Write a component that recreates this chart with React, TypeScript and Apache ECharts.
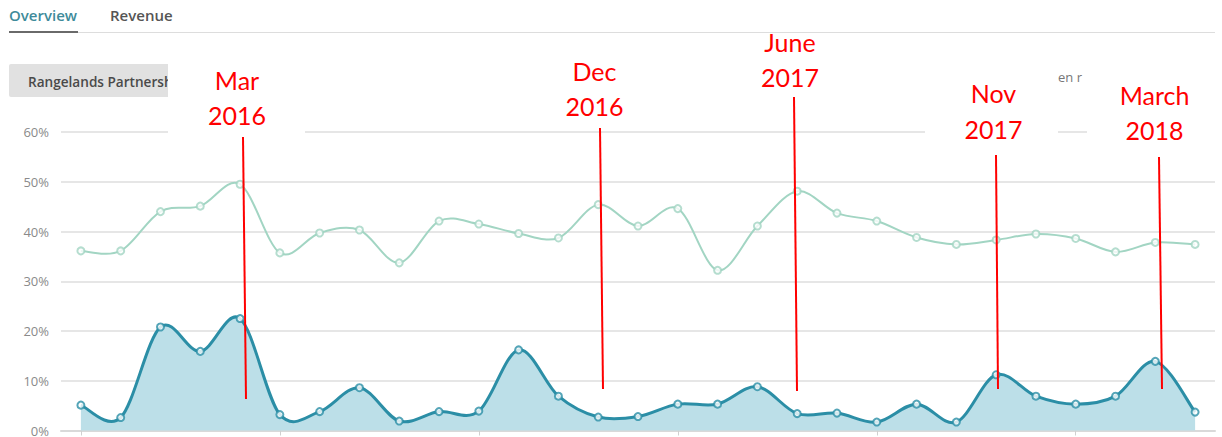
import React, { useEffect, useRef } from "react";
import * as echarts from "echarts";

const months = [
  "Nov 2015", "Dec 2015", "Jan 2016", "Feb 2016", "Mar 2016", "Apr 2016", "May 2016",
  "Jun 2016", "Jul 2016", "Aug 2016", "Sep 2016", "Oct 2016", "Nov 2016", "Dec 2016",
  "Jan 2017", "Feb 2017", "Mar 2017", "Apr 2017", "May 2017", "Jun 2017", "Jul 2017",
  "Aug 2017", "Sep 2017", "Oct 2017", "Nov 2017", "Dec 2017", "Jan 2018", "Feb 2018",
  "Mar 2018",
];

const upperSeries = [
  36.1, 36.1, 44.0, 45.1, 49.5, 35.7, 39.7, 40.3, 33.7, 42.1, 41.5, 39.6, 38.7, 45.4,
  41.1, 44.6, 32.2, 41.1, 48.1, 43.7, 42.1, 38.8, 37.4, 38.3, 39.5, 38.6, 35.9, 37.8,
  37.4,
];

const lowerSeries = [
  5.1, 2.6, 20.8, 15.9, 22.5, 3.2, 3.8, 8.6, 1.9, 3.8, 3.9, 16.2, 6.9, 2.7,
  2.8, 5.3, 5.3, 8.8, 3.4, 3.5, 1.7, 5.3, 1.7, 11.2, 6.9, 5.3, 6.9, 13.9,
  3.7,
];

const tabs = ["Overview", "Revenue"];
const buttonLabel = "Rangelands Partnership";
const annotations = [
  { line1: "Mar", line2: "2016" },
  { line1: "Dec", line2: "2016" },
  { line1: "June", line2: "2017" },
  { line1: "Nov", line2: "2017" },
  { line1: "March", line2: "2018" },
];

// layout for annotation overlays (pixels)
const annoLayout = [
  { cx: 237, y1: 80, y2: 115, lx1: 243, ly1: 137, lx2: 246, ly2: 399 },
  { cx: 594.5, y1: 71, y2: 106, lx1: 600, ly1: 128, lx2: 603, ly2: 389 },
  { cx: 790, y1: 42, y2: 77, lx1: 794, ly1: 97, lx2: 797, ly2: 391 },
  { cx: 993.5, y1: 93, y2: 129, lx1: 996, ly1: 155, lx2: 998, ly2: 389 },
  { cx: 1154.5, y1: 95, y2: 130, lx1: 1159, ly1: 157, lx2: 1162, ly2: 389 },
];

const TEAL = "#2b8ea6";
const TEAL_FILL = "#bcdfe8";
const GREEN = "#a2d5c3";

function catmullPath(pts: number[][], t: number): string {
  let d = `M${pts[0][0]},${pts[0][1]}`;
  for (let i = 0; i < pts.length - 1; i++) {
    const p0 = pts[i - 1] || pts[i];
    const p1 = pts[i];
    const p2 = pts[i + 1];
    const p3 = pts[i + 2] || pts[i + 1];
    const c1x = p1[0] + ((p2[0] - p0[0]) * t) / 6;
    const c1y = p1[1] + ((p2[1] - p0[1]) * t) / 6;
    const c2x = p2[0] - ((p3[0] - p1[0]) * t) / 6;
    const c2y = p2[1] - ((p3[1] - p1[1]) * t) / 6;
    d += ` C${c1x},${c1y} ${c2x},${c2y} ${p2[0]},${p2[1]}`;
  }
  return d;
}

function makeCurveSeries(values: number[], color: string, width: number, fill: string | null, z: number) {
  return {
    type: "custom",
    data: values.map((v, i) => [i, v]),
    encode: { x: 0, y: 1 },
    z,
    silent: true,
    renderItem: (params: any, api: any) => {
      if (params.dataIndex !== 0) return { type: "group", children: [] };
      const pts = values.map((v, i) => api.coord([i, v]));
      const line = catmullPath(pts, 1);
      const children: any[] = [];
      if (fill) {
        const base = api.coord([0, 0])[1];
        const area = `${line} L${pts[pts.length - 1][0]},${base} L${pts[0][0]},${base} Z`;
        children.push({
          type: "path",
          shape: { pathData: area },
          style: { fill, stroke: "none" },
        });
      }
      children.push({
        type: "path",
        shape: { pathData: line },
        style: { fill: "none", stroke: color, lineWidth: width },
      });
      return { type: "group", children };
    },
  };
}

function makeDots(values: number[], color: string, z: number) {
  return {
    type: "scatter",
    data: values,
    symbol: "circle",
    symbolSize: 7,
    itemStyle: { color: "#ffffff", borderColor: color, borderWidth: 2 },
    z,
    silent: true,
  };
}

export default function App() {
  const ref = useRef<HTMLDivElement>(null);

  useEffect(() => {
    if (!ref.current) return;
    const chart = echarts.init(ref.current, undefined, { renderer: "svg" });

    const graphics: any[] = [
      {
        type: "text", z: 100,
        style: {
          text: tabs[0], x: 9, y: 15, fill: "#3e8b9a",
          font: "600 15px 'Open Sans'", verticalAlign: "middle",
        },
      },
      {
        type: "text", z: 100,
        style: {
          text: tabs[1], x: 110, y: 15, fill: "#555555",
          font: "600 15px 'Open Sans'", verticalAlign: "middle",
        },
      },
      {
        type: "line", z: 100,
        shape: { x1: 9, y1: 32.5, x2: 1215, y2: 32.5 },
        style: { stroke: "#dddddd", lineWidth: 1 },
      },
      {
        type: "line", z: 101,
        shape: { x1: 9, y1: 32, x2: 78, y2: 32 },
        style: { stroke: "#6a6a6a", lineWidth: 2 },
      },
      {
        type: "rect", z: 100,
        shape: { x: 9, y: 64, width: 200, height: 33, r: 2 },
        style: { fill: "#e1e1e1" },
      },
      {
        type: "text", z: 101,
        style: {
          text: buttonLabel, x: 28, y: 81, fill: "#4a4a4a",
          font: "600 13.6px 'Open Sans'", verticalAlign: "middle",
        },
      },
      {
        type: "text", z: 100,
        style: {
          text: "en r", x: 1058, y: 77, fill: "#777777",
          font: "13px 'Open Sans'", verticalAlign: "middle",
        },
      },
      {
        type: "rect", z: 110,
        shape: { x: 168, y: 45, width: 137, height: 95 },
        style: { fill: "#ffffff" },
      },
      {
        type: "rect", z: 110,
        shape: { x: 925, y: 60, width: 133, height: 85 },
        style: { fill: "#ffffff" },
      },
      {
        type: "rect", z: 110,
        shape: { x: 1087, y: 60, width: 135, height: 85 },
        style: { fill: "#ffffff" },
      },
    ];

    annotations.forEach((a, i) => {
      const l = annoLayout[i];
      graphics.push({
        type: "text", z: 120,
        style: {
          text: a.line1, x: l.cx, y: l.y1, fill: "#ff0000",
          font: "25px Lato", align: "center", verticalAlign: "middle",
        },
      });
      graphics.push({
        type: "text", z: 120,
        style: {
          text: a.line2, x: l.cx, y: l.y2, fill: "#ff0000",
          font: "25px Lato", align: "center", verticalAlign: "middle",
        },
      });
      graphics.push({
        type: "line", z: 120,
        shape: { x1: l.lx1, y1: l.ly1, x2: l.lx2, y2: l.ly2 },
        style: { stroke: "#ff0000", lineWidth: 2 },
      });
    });

    chart.setOption({
      animation: false,
      grid: { left: 61, right: 7, top: 132, bottom: 5, containLabel: false },
      xAxis: {
        type: "category",
        data: months,
        boundaryGap: true,
        axisLine: { show: true, lineStyle: { color: "#d9d9d9", width: 2 } },
        axisTick: {
          show: true, alignWithLabel: true, interval: 4, length: 5,
          lineStyle: { color: "#d0d0d0" },
        },
        axisLabel: { show: false },
        splitLine: { show: false },
      },
      yAxis: {
        type: "value",
        min: 0,
        max: 60,
        interval: 10,
        axisLine: { show: false },
        axisTick: { show: false },
        axisLabel: {
          formatter: "{value}%",
          color: "#8a8a8a",
          fontFamily: "Open Sans",
          fontSize: 13,
          margin: 12,
        },
        splitLine: { lineStyle: { color: "#e6e6e6", width: 2 } },
      },
      series: [
        makeCurveSeries(upperSeries, GREEN, 2, null, 3),
        makeCurveSeries(lowerSeries, TEAL, 3, TEAL_FILL, 4),
        makeDots(upperSeries, GREEN, 6),
        makeDots(lowerSeries, TEAL, 7),
      ],
      graphic: graphics,
    });

    return () => chart.dispose();
  }, []);

  return (
    <div
      ref={ref}
      style={{ position: "fixed", left: 0, top: 0, width: 1222, height: 437, background: "#ffffff" }}
    />
  );
}
